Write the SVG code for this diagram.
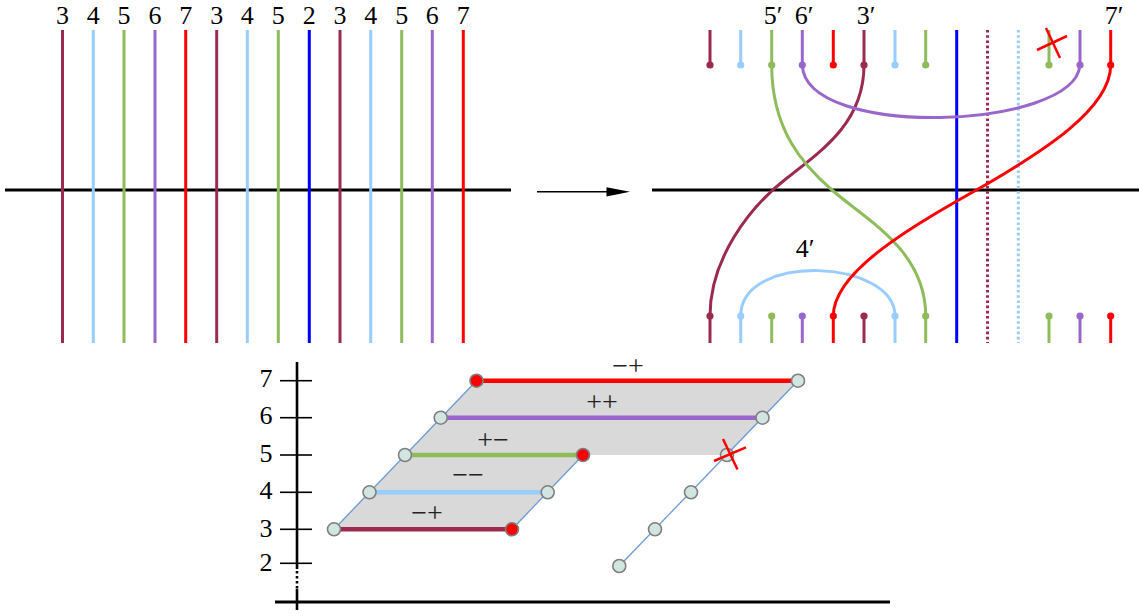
<svg xmlns="http://www.w3.org/2000/svg" width="1139" height="616" viewBox="0 0 1139 616">
<style>
.t{font-family:"Liberation Serif","DejaVu Serif",serif;font-size:26px;fill:#000;text-anchor:middle}
.s{font-family:"Liberation Serif","DejaVu Serif",serif;font-size:28px;fill:#222;text-anchor:middle}
.ln{fill:none;stroke-width:3}
.m{stroke:#9B2A4E}.b{stroke:#99CCFF}.g{stroke:#8FBC5B}.p{stroke:#9966CC}.r{stroke:#FF0000}.u{stroke:#0000FF}
.fm{fill:#9B2A4E}.fb{fill:#99CCFF}.fg{fill:#8FBC5B}.fp{fill:#9966CC}.fr{fill:#FF0000}
.k{stroke:#000;stroke-width:3;fill:none}
.dg{fill:none;stroke:#6A9BD3;stroke-width:1.3}
.nd{fill:#D2E6E1;stroke:#7F7F7F;stroke-width:1.6}
.nr{fill:#FF0000;stroke:#7F7F7F;stroke-width:1.6}
.x{stroke:#FF0000;stroke-width:2.5}
.row{stroke-width:4.5;fill:none}
</style>

<g id="left-panel">
<line class="k" x1="5" y1="190" x2="511" y2="190"/>
<g class="ln">
<line class="m" x1="62.5" y1="30" x2="62.5" y2="343"/>
<line class="b" x1="93.3" y1="30" x2="93.3" y2="343"/>
<line class="g" x1="124" y1="30" x2="124" y2="343"/>
<line class="p" x1="155" y1="30" x2="155" y2="343"/>
<line class="r" x1="185.7" y1="30" x2="185.7" y2="343"/>
<line class="m" x1="216.7" y1="30" x2="216.7" y2="343"/>
<line class="b" x1="247.3" y1="30" x2="247.3" y2="343"/>
<line class="g" x1="278.3" y1="30" x2="278.3" y2="343"/>
<line class="u" x1="309.3" y1="30" x2="309.3" y2="343"/>
<line class="m" x1="340" y1="30" x2="340" y2="343"/>
<line class="b" x1="370.7" y1="30" x2="370.7" y2="343"/>
<line class="g" x1="401.7" y1="30" x2="401.7" y2="343"/>
<line class="p" x1="432.3" y1="30" x2="432.3" y2="343"/>
<line class="r" x1="463.3" y1="30" x2="463.3" y2="343"/>
</g>
<g class="t" font-family="Liberation Serif, DejaVu Serif, serif" font-size="26" text-anchor="middle">
<text x="62.5" y="23.5">3</text><text x="93.3" y="23.5">4</text><text x="124" y="23.5">5</text><text x="155" y="23.5">6</text><text x="185.7" y="23.5">7</text>
<text x="216.7" y="23.5">3</text><text x="247.3" y="23.5">4</text><text x="278.3" y="23.5">5</text><text x="309.3" y="23.5">2</text>
<text x="340" y="23.5">3</text><text x="370.7" y="23.5">4</text><text x="401.7" y="23.5">5</text><text x="432.3" y="23.5">6</text><text x="463.3" y="23.5">7</text>
</g>
</g>

<g id="arrow">
<line x1="537" y1="191.7" x2="610" y2="191.7" stroke="#000" stroke-width="1.4"/>
<polygon points="606.5,187.3 630,191.7 606.5,196.5" fill="#000"/>
</g>

<g id="right-panel">
<line class="k" x1="652" y1="190" x2="1139" y2="190"/>
<g id="top-stubs" class="ln">
<line class="m" x1="710" y1="30" x2="710" y2="65"/>
<line class="b" x1="740.7" y1="30" x2="740.7" y2="65"/>
<line class="g" x1="771.7" y1="30" x2="771.7" y2="65"/>
<line class="p" x1="802.3" y1="30" x2="802.3" y2="65"/>
<line class="r" x1="833.3" y1="30" x2="833.3" y2="65"/>
<line class="m" x1="864" y1="30" x2="864" y2="65"/>
<line class="b" x1="895" y1="30" x2="895" y2="65"/>
<line class="g" x1="925.7" y1="30" x2="925.7" y2="65"/>
<line class="g" x1="1049" y1="30" x2="1049" y2="65"/>
<line class="p" x1="1080" y1="30" x2="1080" y2="65"/>
<line class="r" x1="1110.7" y1="30" x2="1110.7" y2="65"/>
</g>
<g id="bottom-stubs" class="ln">
<line class="m" x1="710" y1="316" x2="710" y2="343"/>
<line class="b" x1="740.7" y1="316" x2="740.7" y2="343"/>
<line class="g" x1="771.7" y1="316" x2="771.7" y2="343"/>
<line class="p" x1="802.3" y1="316" x2="802.3" y2="343"/>
<line class="r" x1="833.3" y1="316" x2="833.3" y2="343"/>
<line class="m" x1="864" y1="316" x2="864" y2="343"/>
<line class="b" x1="895" y1="316" x2="895" y2="343"/>
<line class="g" x1="925.7" y1="316" x2="925.7" y2="343"/>
<line class="g" x1="1049" y1="316" x2="1049" y2="343"/>
<line class="p" x1="1080" y1="316" x2="1080" y2="343"/>
<line class="r" x1="1110.7" y1="316" x2="1110.7" y2="343"/>
</g>
<g id="verticals" class="ln">
<line class="u" x1="956.7" y1="30" x2="956.7" y2="343"/>
<line class="m" x1="987.5" y1="30" x2="987.5" y2="343" stroke-dasharray="2.6 2.6"/>
<line class="b" x1="1018.3" y1="30" x2="1018.3" y2="343" stroke-dasharray="2.6 2.6"/>
</g>
<g id="strands" class="ln">
<path class="b" d="M740.7,316 C740.7,252 895,259 895,316"/>
<path class="m" d="M864,65 C864,120 826,148 787,178 C748,208 710,260 710,316"/>
<path class="g" d="M771.7,65 C771.7,130 803,165 832,190 C866,220 925.7,250 925.7,316"/>
<path class="p" d="M802.3,65 C805,140 1075,130 1080,65"/>
<path class="r" d="M1110.7,65 C1110.7,110 1038,154 987,184 C916,224 833.3,270 833.3,316"/>
</g>
<g id="dots">
<g>
<circle class="fm" cx="710" cy="65" r="3.6"/><circle class="fb" cx="740.7" cy="65" r="3.6"/><circle class="fg" cx="771.7" cy="65" r="3.6"/><circle class="fp" cx="802.3" cy="65" r="3.6"/><circle class="fr" cx="833.3" cy="65" r="3.6"/><circle class="fm" cx="864" cy="65" r="3.6"/><circle class="fb" cx="895" cy="65" r="3.6"/><circle class="fg" cx="925.7" cy="65" r="3.6"/><circle class="fg" cx="1049" cy="65" r="3.6"/><circle class="fp" cx="1080" cy="65" r="3.6"/><circle class="fr" cx="1110.7" cy="65" r="3.6"/>
</g>
<g>
<circle class="fm" cx="710" cy="316" r="3.6"/><circle class="fb" cx="740.7" cy="316" r="3.6"/><circle class="fg" cx="771.7" cy="316" r="3.6"/><circle class="fp" cx="802.3" cy="316" r="3.6"/><circle class="fr" cx="833.3" cy="316" r="3.6"/><circle class="fm" cx="864" cy="316" r="3.6"/><circle class="fb" cx="895" cy="316" r="3.6"/><circle class="fg" cx="925.7" cy="316" r="3.6"/><circle class="fg" cx="1049" cy="316" r="3.6"/><circle class="fp" cx="1080" cy="316" r="3.6"/><circle class="fr" cx="1110.7" cy="316" r="3.6"/>
</g>
</g>
<g id="top-cross">
<line class="x" x1="1037" y1="50" x2="1067" y2="36"/>
<line class="x" x1="1046" y1="28" x2="1060" y2="58"/>
</g>
<g class="t" font-family="Liberation Serif, DejaVu Serif, serif" font-size="26" text-anchor="middle">
<text x="773" y="23.5">5′</text><text x="804" y="23.5">6′</text><text x="866" y="23.5">3′</text><text x="1114" y="23.5">7′</text>
<text x="805" y="257">4′</text>
</g>
</g>

<g id="chart">
<g id="axes">
<line class="k" x1="275" y1="602" x2="890" y2="602"/>
<line x1="297" y1="362" x2="297" y2="569" stroke="#000" stroke-width="2.6"/>
<line x1="297" y1="571" x2="297" y2="590" stroke="#000" stroke-width="2.6" stroke-dasharray="2.5 2.5"/>
<line x1="297" y1="589" x2="297" y2="610" stroke="#000" stroke-width="2.6"/>
<g stroke="#000" stroke-width="1.6">
<line x1="280" y1="380.7" x2="312" y2="380.7"/>
<line x1="280" y1="417.7" x2="312" y2="417.7"/>
<line x1="280" y1="455" x2="312" y2="455"/>
<line x1="280" y1="492.3" x2="312" y2="492.3"/>
<line x1="280" y1="529.3" x2="312" y2="529.3"/>
<line x1="280" y1="563.3" x2="312" y2="563.3"/>
</g>
<g class="t" font-family="Liberation Serif, DejaVu Serif, serif" font-size="28" text-anchor="middle">
<text x="266" y="387">7</text><text x="266" y="424">6</text><text x="266" y="462">5</text><text x="266" y="499">4</text><text x="266" y="537">3</text><text x="266" y="571">2</text>
</g>
</g>
<polygon id="region" points="334,529.3 512,529.3 583,455 727,455 798,380.7 476.5,380.7" fill="#D9D9D9"/>
<g id="diagonals">
<line class="dg" x1="334" y1="529.3" x2="476.5" y2="380.7"/>
<line class="dg" x1="512" y1="529.3" x2="583" y2="455"/>
<line class="dg" x1="619.3" y1="566" x2="798" y2="380.7"/>
</g>
<g id="rows">
<line class="row r" x1="476.5" y1="380.7" x2="798" y2="380.7"/>
<line class="row p" x1="440.7" y1="417.7" x2="762.5" y2="417.7"/>
<line class="row g" x1="405" y1="455" x2="583" y2="455"/>
<line class="row b" x1="369.5" y1="492.3" x2="547.7" y2="492.3"/>
<line class="row m" x1="334" y1="529.3" x2="512" y2="529.3"/>
</g>
<g id="chart-nodes">
<circle id="n7a" class="nr" cx="476.5" cy="380.7" r="6.5"/>
<circle id="n7b" class="nd" cx="798" cy="380.7" r="6.5"/>
<circle id="n6a" class="nd" cx="440.7" cy="417.7" r="6.5"/>
<circle id="n6b" class="nd" cx="762.5" cy="417.7" r="6.5"/>
<circle id="n5a" class="nd" cx="405" cy="455" r="6.5"/>
<circle id="n5b" class="nr" cx="583" cy="455" r="6.5"/>
<circle id="n5c" class="nd" cx="727" cy="455" r="6.5"/>
<circle id="n4a" class="nd" cx="369.5" cy="492.3" r="6.5"/>
<circle id="n4b" class="nd" cx="547.7" cy="492.3" r="6.5"/>
<circle id="n4c" class="nd" cx="691" cy="492.3" r="6.5"/>
<circle id="n3a" class="nd" cx="334" cy="529.3" r="6.5"/>
<circle id="n3b" class="nr" cx="512" cy="529.3" r="6.5"/>
<circle id="n3c" class="nd" cx="655" cy="529.3" r="6.5"/>
<circle id="n2c" class="nd" cx="619.3" cy="566" r="6.5"/>
</g>
<g id="chart-cross">
<line class="x" x1="714" y1="461" x2="746" y2="447.3"/>
<line class="x" x1="723" y1="439" x2="737.5" y2="469.5"/>
</g>
<g class="s" font-family="Liberation Serif, DejaVu Serif, serif" font-size="28" text-anchor="middle">
<text x="628" y="375">−+</text>
<text x="602" y="411">++</text>
<text x="493" y="449">+−</text>
<text x="468" y="484">−−</text>
<text x="427" y="522">−+</text>
</g>
</g>
</svg>
